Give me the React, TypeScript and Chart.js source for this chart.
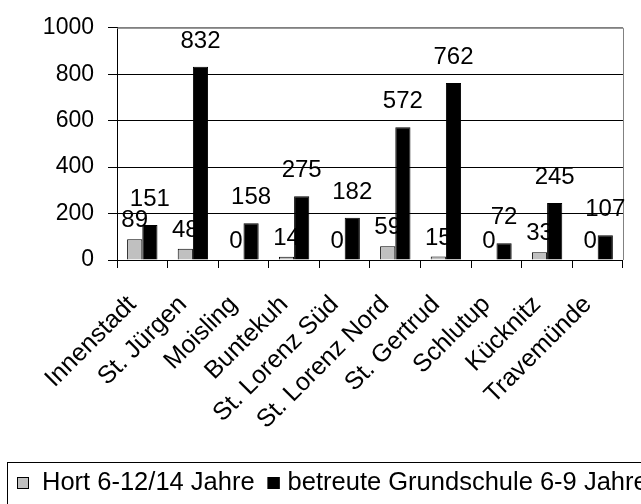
import React, { useEffect, useRef } from "react";
import { Chart, registerables } from "chart.js";

Chart.register(...registerables);

const categories = [
  "Innenstadt",
  "St. Jürgen",
  "Moisling",
  "Buntekuh",
  "St. Lorenz Süd",
  "St. Lorenz Nord",
  "St. Gertrud",
  "Schlutup",
  "Kücknitz",
  "Travemünde",
];
const hortValues = [89, 48, 0, 14, 0, 59, 15, 0, 33, 0];
const grundschuleValues = [151, 832, 158, 275, 182, 572, 762, 72, 245, 107];
const seriesLabels = ["Hort 6-12/14 Jahre", "betreute Grundschule 6-9 Jahre"];
const seriesColors = ["#c0c0c0", "#000000"];
const yMin = 0;
const yMax = 1000;
const yStep = 200;

const FONT = 'Arial, "Liberation Sans", sans-serif';

const plotBorderPlugin = {
  id: "plotBorder",
  beforeDatasetsDraw(chart: any) {
    const { ctx, chartArea } = chart;
    ctx.save();
    ctx.strokeStyle = "#808080";
    ctx.lineWidth = 1;
    ctx.beginPath();
    ctx.moveTo(chartArea.left, chartArea.top + 0.5);
    ctx.lineTo(chartArea.right + 0.5, chartArea.top + 0.5);
    ctx.lineTo(chartArea.right + 0.5, chartArea.bottom);
    ctx.stroke();
    ctx.restore();
  },
};

const dataLabelPlugin = {
  id: "dataLabels",
  afterDatasetsDraw(chart: any) {
    const { ctx } = chart;
    ctx.save();
    ctx.font = `24px ${FONT}`;
    ctx.fillStyle = "#000";
    ctx.textAlign = "center";
    ctx.textBaseline = "alphabetic";
    chart.data.datasets.forEach((ds: any, di: number) => {
      const meta = chart.getDatasetMeta(di);
      const gap = di === 0 ? 12 : 19;
      meta.data.forEach((bar: any, i: number) => {
        ctx.fillText(String(ds.data[i]), bar.x, bar.y - gap);
      });
    });
    ctx.restore();
  },
};

const legendPlugin = {
  id: "customLegend",
  afterDraw(chart: any) {
    const { ctx } = chart;
    ctx.save();
    ctx.strokeStyle = "#000";
    ctx.lineWidth = 1;
    ctx.strokeRect(7.5, 462.5, 800, 100);
    ctx.font = `25.5px ${FONT}`;
    ctx.textBaseline = "middle";
    ctx.textAlign = "left";
    let x = 17;
    const cy = 483;
    chart.data.datasets.forEach((ds: any, di: number) => {
      ctx.fillStyle = seriesColors[di];
      ctx.fillRect(x, cy - 6, 12, 12);
      ctx.strokeStyle = "#000";
      ctx.strokeRect(x + 0.5, cy - 5.5, 11, 11);
      const tx = x + (di === 0 ? 25 : 20);
      ctx.fillStyle = "#000";
      ctx.fillText(ds.label, tx, cy);
      x = tx + ctx.measureText(ds.label).width + 13;
    });
    ctx.restore();
  },
};

export default function App() {
  const canvasRef = useRef<HTMLCanvasElement | null>(null);

  useEffect(() => {
    if (!canvasRef.current) return;
    const chart = new Chart(canvasRef.current, {
      type: "bar",
      data: {
        labels: categories,
        datasets: [
          {
            label: seriesLabels[0],
            data: hortValues,
            backgroundColor: seriesColors[0],
            borderColor: "#000",
            borderWidth: 1,
            categoryPercentage: 0.6,
            barPercentage: 1.0,
          },
          {
            label: seriesLabels[1],
            data: grundschuleValues,
            backgroundColor: seriesColors[1],
            borderColor: "#000",
            borderWidth: 1,
            categoryPercentage: 0.6,
            barPercentage: 1.0,
          },
        ],
      },
      options: {
        responsive: false,
        animation: false,
        layout: { padding: { top: 22, right: 2, left: 0, bottom: 0 } },
        plugins: {
          legend: { display: false },
          tooltip: { enabled: false },
        },
        scales: {
          x: {
            offset: true,
            grid: {
              offset: true,
              drawOnChartArea: false,
              drawTicks: true,
              tickLength: 8,
              color: "#000",
            },
            border: { display: true, color: "#000" },
            ticks: {
              maxRotation: 45,
              minRotation: 45,
              autoSkip: false,
              color: "#000",
              font: { size: 25, family: FONT },
              padding: 22,
              labelOffset: -10,
            },
            afterFit(scale: any) {
              scale.height = 244;
            },
          },
          y: {
            min: yMin,
            max: yMax,
            ticks: {
              stepSize: yStep,
              color: "#000",
              font: { size: 23, family: FONT },
              padding: 14,
              callback: (v: any) => String(v),
            },
            grid: {
              color: (c: any) => (c.tick && c.tick.value === yMax ? "#808080" : "#000"),
              tickColor: "#000",
              tickLength: 9,
            },
            border: { display: true, color: "#000" },
            afterFit(scale: any) {
              scale.width = 117;
            },
          },
        },
      },
      plugins: [plotBorderPlugin, dataLabelPlugin, legendPlugin],
    });
    return () => chart.destroy();
  }, []);

  return (
    <div style={{ position: "absolute", left: 0, top: 0, width: 641, height: 504, background: "#fff" }}>
      <canvas ref={canvasRef} width={641} height={504} style={{ width: 641, height: 504 }} />
    </div>
  );
}
